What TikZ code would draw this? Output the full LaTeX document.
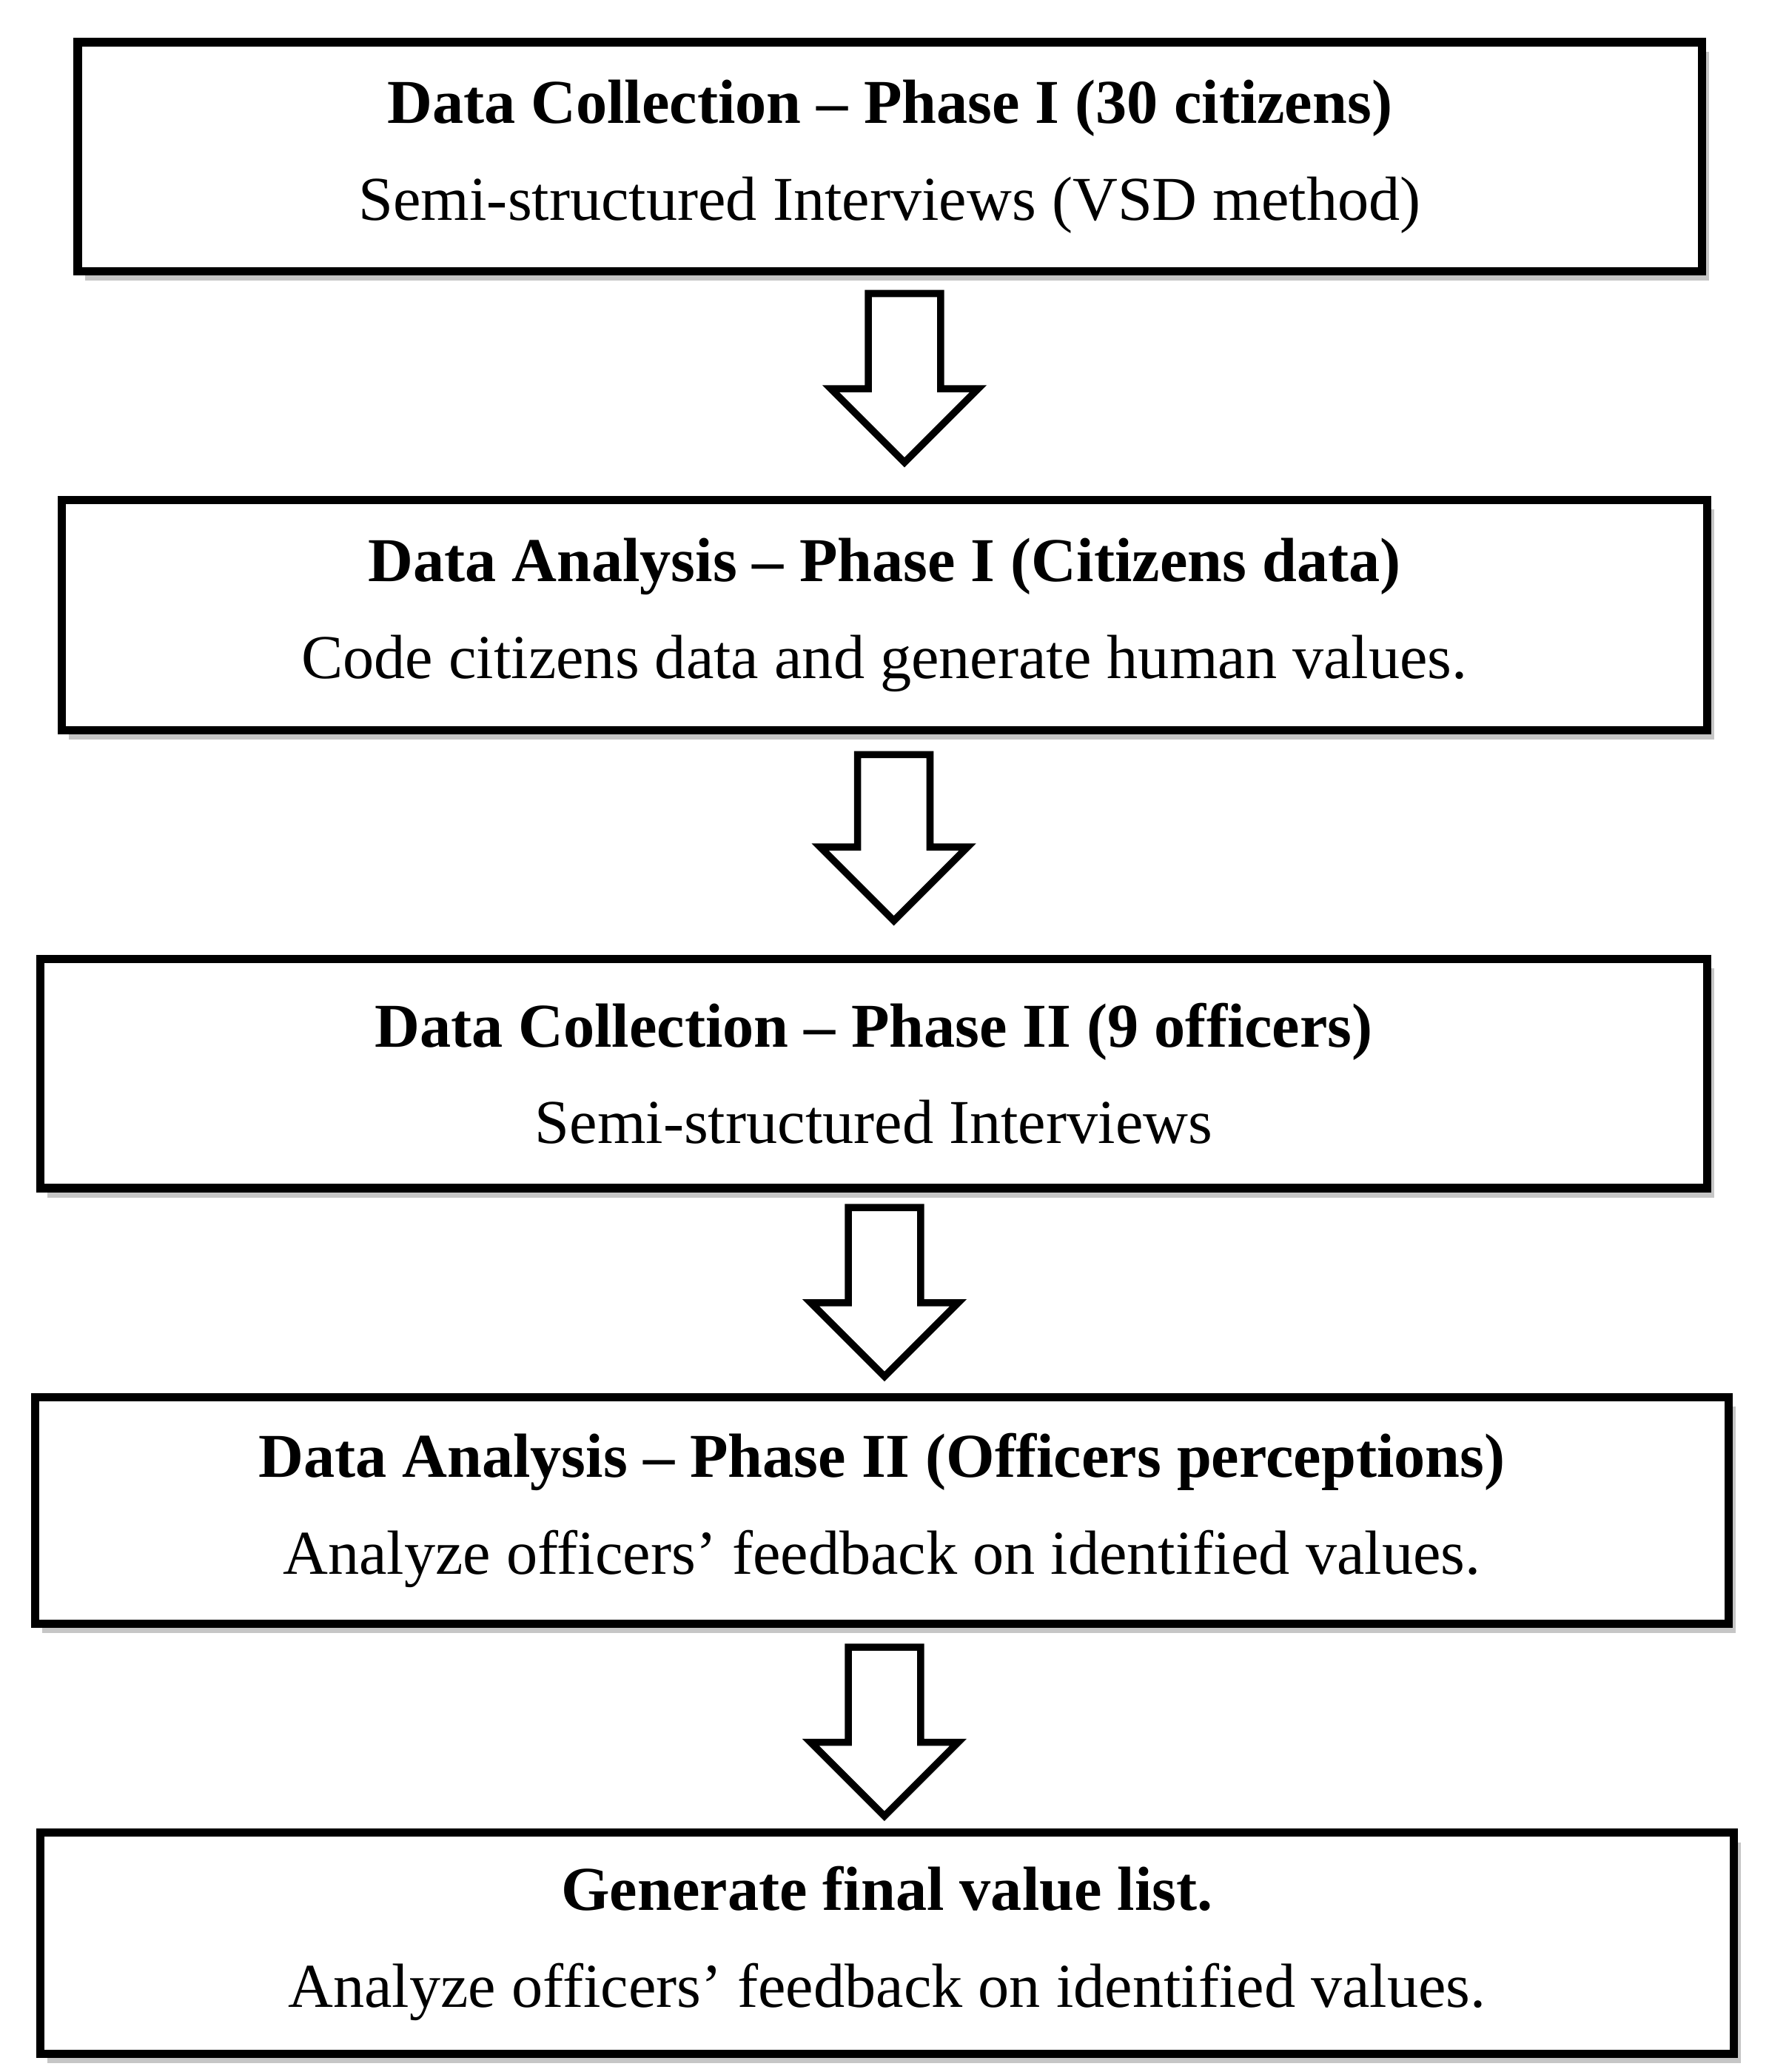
\documentclass[tikz,border=0pt]{standalone}
\usepackage{fontspec}
\setmainfont{Liberation Serif}
\usetikzlibrary{shadows}

\tikzset{
  step box/.style={draw,line width=3.5pt,fill=white,align=center,
    drop shadow={shadow xshift=3pt,shadow yshift=-4pt,opacity=.45},
    font=\fontsize{26.5}{41}\selectfont},
  step arrow/.style={draw,line width=3pt,fill=white,line join=miter}
}
% block arrow: centre x, top y, bottom y
\newcommand\blockarrow[3]{%
  \draw[step arrow] (#1-27,#2) -- (#1+27,#2) -- (#1+27,#3-55) -- (#1+55,#3-55)
    -- (#1,#3) -- (#1-55,#3-55) -- (#1-27,#3-55) -- cycle;}

\begin{document}
\begin{tikzpicture}[x=0.02cm,y=-0.02cm]
  \useasboundingbox (0,0) rectangle (1320,1546);

  % The steps
  \node[step box,minimum width=1212*0.02cm,minimum height=171*0.02cm] (s1) at (664,117)
    {\textbf{Data Collection -- Phase I (30 citizens)}\\Semi-structured Interviews (VSD method)};
  \node[step box,minimum width=1228*0.02cm,minimum height=172*0.02cm] (s2) at (660,459)
    {\textbf{Data Analysis -- Phase I (Citizens data)}\\Code citizens data and generate human values.};
  \node[step box,minimum width=1244*0.02cm,minimum height=171*0.02cm] (s3) at (652,801)
    {\textbf{Data Collection -- Phase II (9 officers)}\\Semi-structured Interviews};
  \node[step box,minimum width=1264*0.02cm,minimum height=169*0.02cm] (s4) at (658,1127)
    {\textbf{Data Analysis -- Phase II (Officers perceptions)}\\Analyze officers' feedback on identified values.};
  \node[step box,minimum width=1264*0.02cm,minimum height=165*0.02cm] (s5) at (662,1450)
    {\textbf{Generate final value list.}\\Analyze officers' feedback on identified values.};

  % The arrows
  \blockarrow{675}{219}{345}
  \blockarrow{667}{563}{687}
  \blockarrow{660}{901}{1027}
  \blockarrow{660}{1229}{1355}
\end{tikzpicture}
\end{document}
